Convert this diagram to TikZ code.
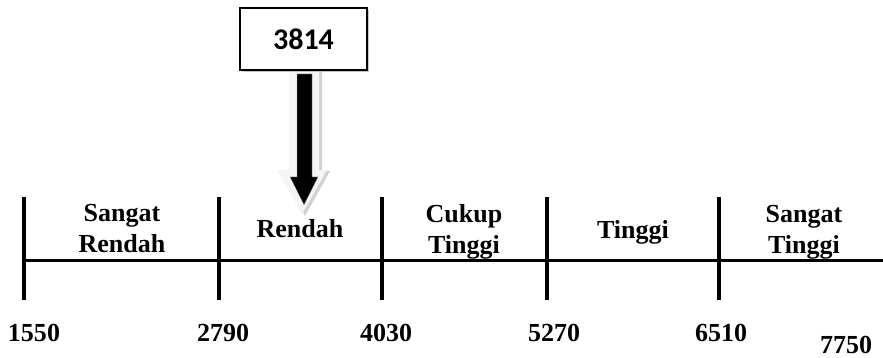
\documentclass[tikz,border=0pt]{standalone}
\usepackage{fontspec}
\setmainfont{Liberation Serif}
\newfontfamily\boxfont{Carlito}
\begin{document}
\begin{tikzpicture}[x=1pt,y=-1pt,
  catlabel/.style={font=\fontsize{26}{31}\selectfont\bfseries, align=center, inner sep=0pt},
  numlabel/.style={font=\fontsize{26}{30}\selectfont\bfseries, inner sep=0pt},
  tickline/.style={line width=3.5pt},
  axisline/.style={line width=3pt},
  valbox/.style={draw=black, line width=2pt, fill=white, minimum width=127pt, minimum height=62pt, inner sep=0pt, font=\boxfont\fontsize{30}{34}\selectfont\bfseries}
]
\useasboundingbox (0,0) rectangle (883,358);
% axis and ticks
\coordinate (a0) at (24,260);
\coordinate (aend) at (883,260);
\draw[axisline] (a0) -- (aend);
\foreach \x/\n in {24/t1,219/t2,382/t3,547/t4,719/t5}{
  \coordinate (\n top) at (\x,197);
  \coordinate (\n bot) at (\x,300);
  \draw[tickline] (\n top) -- (\n bot);
}
% category labels
\node[catlabel] (sr) at (122,229) {Sangat\\Rendah};
\node[catlabel] (r) at (300,229) {Rendah};
\node[catlabel] (ct) at (464,232) {Cukup\\Tinggi};
\node[catlabel] (t) at (633,232) {Tinggi};
\node[catlabel] (st) at (804,232) {Sangat\\Tinggi};
% numbers
\node[numlabel] (n1) at (34,333) {1550};
\node[numlabel] (n2) at (223,333) {2790};
\node[numlabel] (n3) at (386,333) {4030};
\node[numlabel] (n4) at (554,333) {5270};
\node[numlabel] (n5) at (721,333) {6510};
\node[numlabel] (n6) at (846,345) {7750};
% pointer arrow (block arrow with shadow)
\fill[gray!35] (292,71) -- (322,71) -- (322,171) -- (330,171) -- (305,216) -- (280,171) -- (292,171) -- cycle;
\fill[gray!8] (289,70) -- (319,70) -- (319,170) -- (327,170) -- (302,214) -- (277,170) -- (289,170) -- cycle;
\fill[black, draw=gray!60, line width=0.4pt] (297,74) -- (312,74) -- (312,177) -- (318,177) -- (304,205) -- (290,177) -- (297,177) -- cycle;
% value box with shadow
\fill[gray!45] (242,10) rectangle (369,72);
\node[valbox] (val) at (303.5,39) {3814};
\end{tikzpicture}
\end{document}
